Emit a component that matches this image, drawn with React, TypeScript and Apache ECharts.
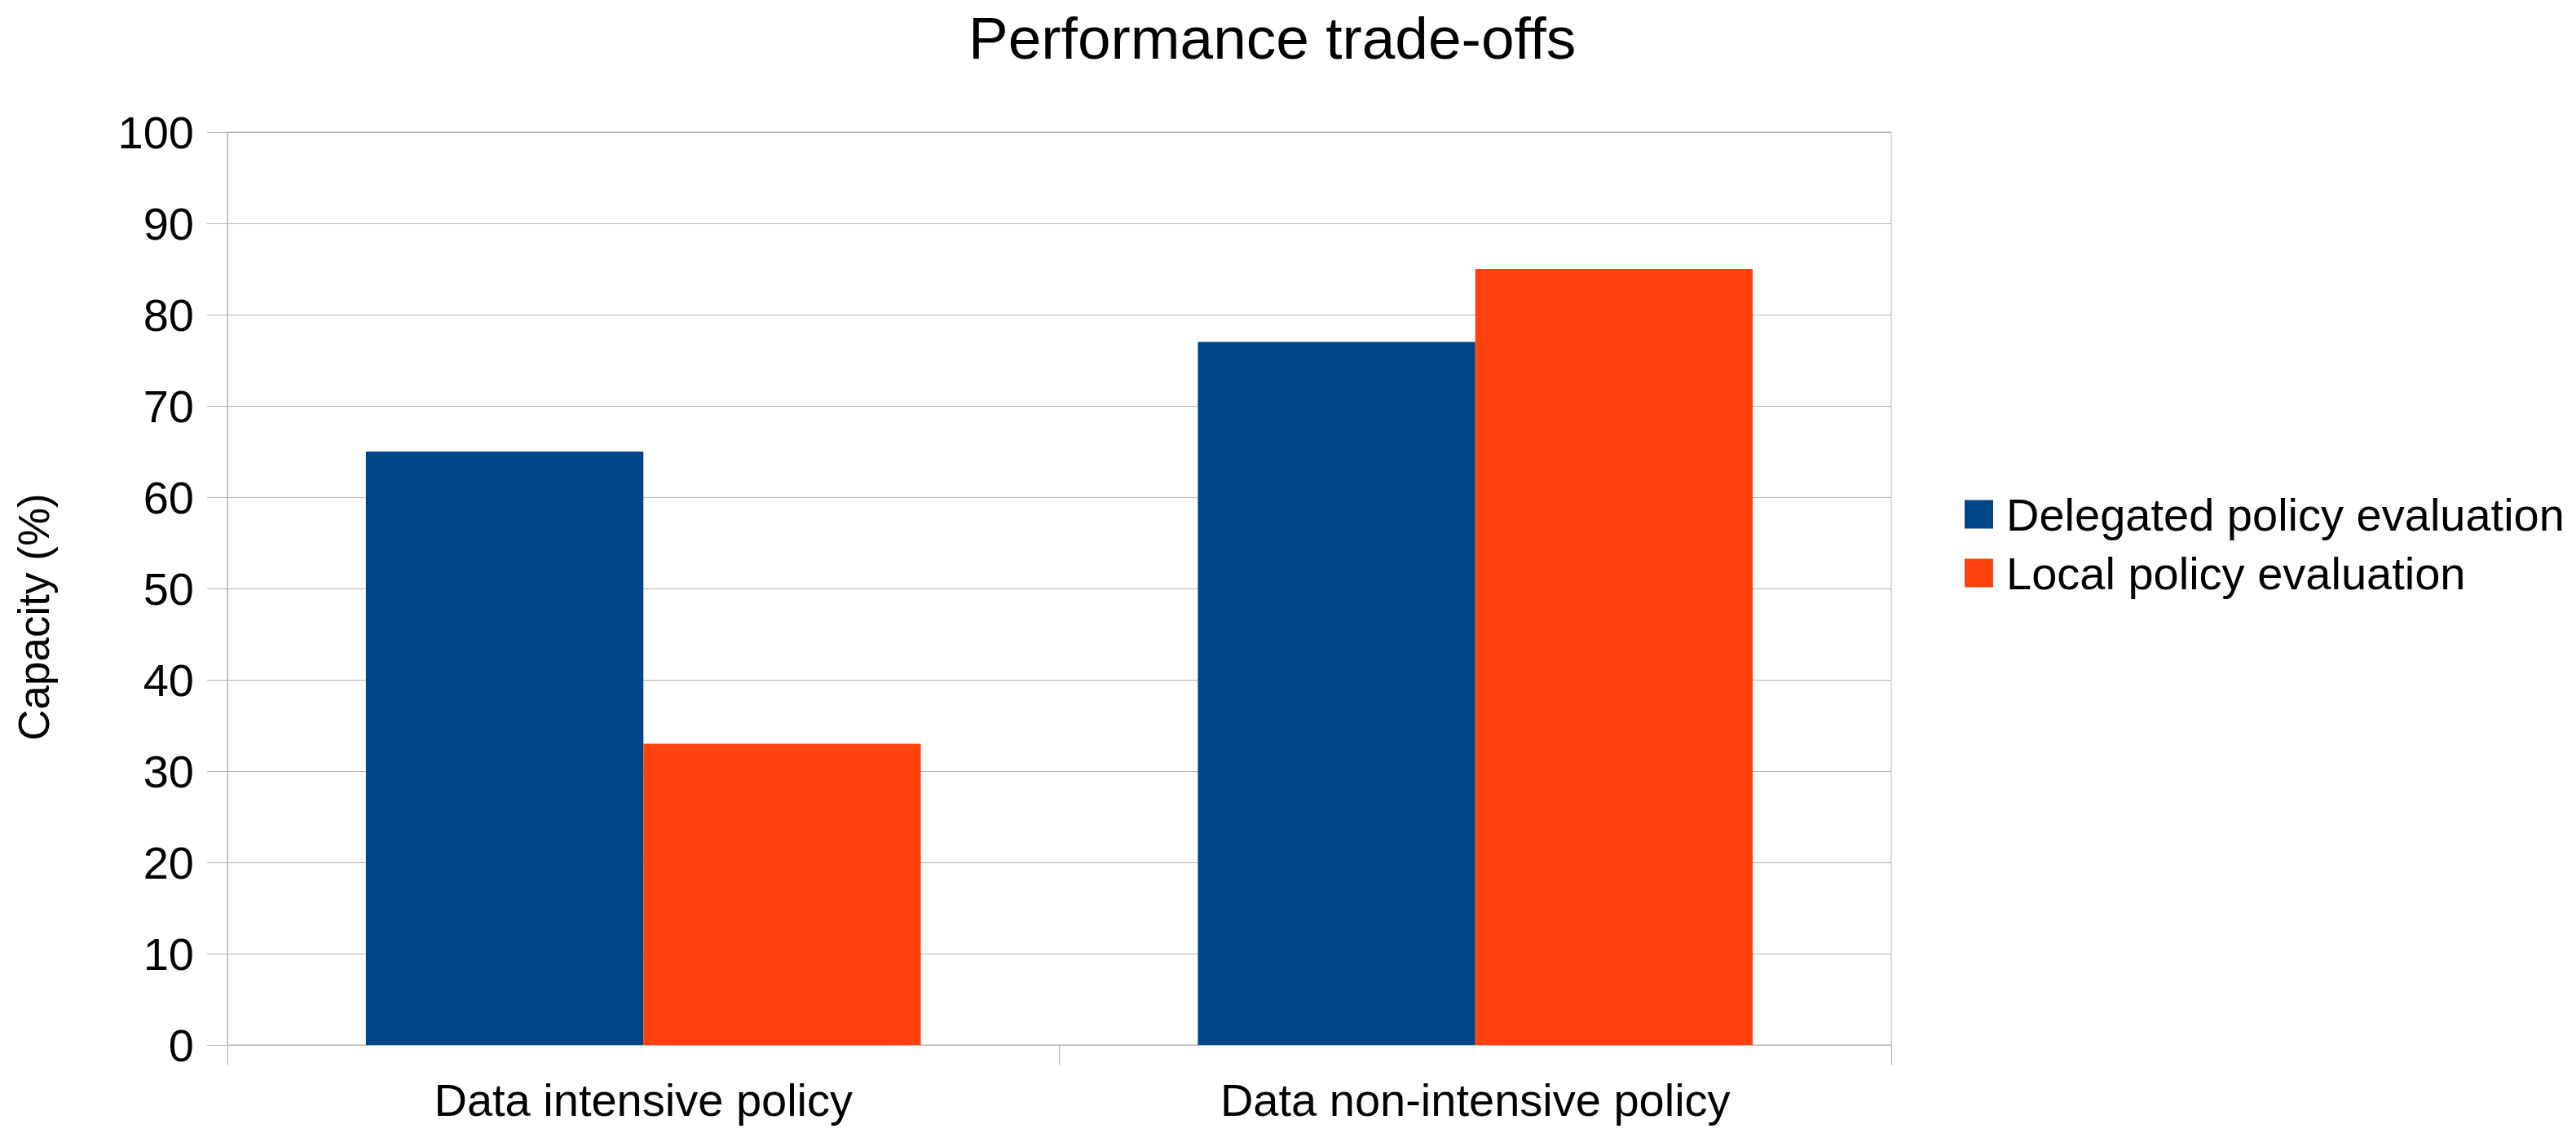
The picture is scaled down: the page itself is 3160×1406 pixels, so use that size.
import React, { useEffect, useRef } from "react";
import * as echarts from "echarts";

const categories = ["Data intensive policy", "Data non-intensive policy"];
const delegated = [65, 77];
const local = [33, 85];
const seriesNames = ["Delegated policy evaluation", "Local policy evaluation"];
const titleText = "Performance trade-offs";
const yAxisTitle = "Capacity (%)";

const FONT = "'Liberation Sans', Arial, sans-serif";
const GRID = "#b3b3b3";

export default function App() {
  const ref = useRef<HTMLDivElement>(null);
  useEffect(() => {
    if (!ref.current) return;
    const chart = echarts.init(ref.current, undefined, { renderer: "svg" });
    chart.setOption({
      animation: false,
      backgroundColor: "#ffffff",
      textStyle: { fontFamily: FONT, color: "#000" },
      title: {
        text: titleText,
        left: 1183,
        top: 5,
        textStyle: { fontFamily: FONT, fontSize: 73, fontWeight: "normal", color: "#000" },
      },
      legend: {
        orient: "vertical",
        left: 2405,
        top: 598,
        itemWidth: 35,
        itemHeight: 35,
        itemGap: 16,
        icon: "rect",
        textStyle: { fontFamily: FONT, fontSize: 56, color: "#000", padding: [0, 0, 0, 11] },
        data: seriesNames,
      },
      grid: {
        left: 279,
        right: 840,
        top: 162,
        bottom: 124,
        show: true,
        borderColor: GRID,
        borderWidth: 1,
        containLabel: false,
      },
      xAxis: {
        type: "category",
        data: categories,
        boundaryGap: true,
        axisLine: { show: true, lineStyle: { color: GRID, width: 1 } },
        axisTick: { show: true, length: 25, lineStyle: { color: GRID, width: 1 } },
        axisLabel: { fontFamily: FONT, fontSize: 56, color: "#000", margin: 39 },
        splitLine: { show: false },
      },
      yAxis: {
        type: "value",
        min: 0,
        max: 100,
        interval: 10,
        name: yAxisTitle,
        nameLocation: "middle",
        nameGap: 211,
        nameRotate: 90,
        nameTextStyle: { fontFamily: FONT, fontSize: 53, color: "#000", padding: [0, 70, 0, 0] },
        axisLine: { show: true, lineStyle: { color: GRID, width: 1 } },
        axisTick: { show: true, length: 25, lineStyle: { color: GRID, width: 1 } },
        axisLabel: { fontFamily: FONT, fontSize: 56, color: "#000", margin: 41 },
        splitLine: { show: true, lineStyle: { color: GRID, width: 1 } },
      },
      series: [
        {
          name: seriesNames[0],
          type: "bar",
          data: delegated,
          barGap: "0%",
          barCategoryGap: "33.3%",
          itemStyle: { color: "#004586" },
        },
        {
          name: seriesNames[1],
          type: "bar",
          data: local,
          barGap: "0%",
          barCategoryGap: "33.3%",
          itemStyle: { color: "#ff420e" },
        },
      ],
    });
    return () => chart.dispose();
  }, []);
  return (
    <div
      ref={ref}
      style={{ position: "absolute", left: 0, top: 0, width: 3160, height: 1406, background: "#fff" }}
    />
  );
}
